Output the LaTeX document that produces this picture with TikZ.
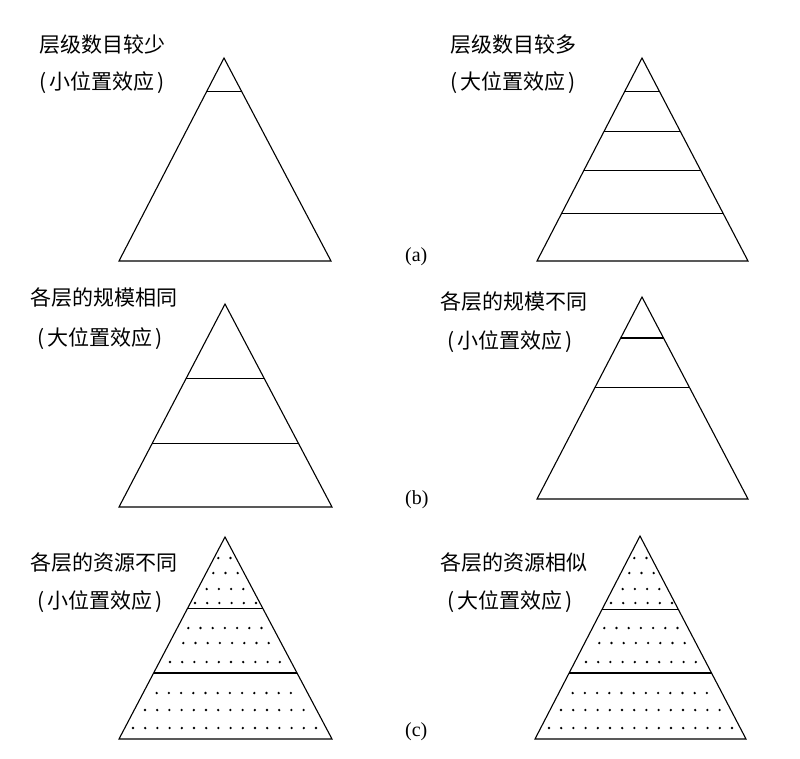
\documentclass[tikz,border=0pt]{standalone}
\usepackage{fontspec}
\newfontfamily\cjk{Noto Sans CJK SC}
\newfontfamily\partfont{Liberation Serif}
\usetikzlibrary{calc}

\tikzset{
  edge/.style={line width=1.1pt, line join=miter},
  headtext/.style={anchor=west, inner sep=0pt, font=\cjk\fontsize{21}{25}\selectfont},
  parttext/.style={anchor=west, inner sep=0pt, font=\partfont\fontsize{20}{24}\selectfont},
  dot/.style={fill=black}
}
\newcommand\effect[1]{(\hspace{3pt}#1\hspace{3pt})}

\begin{document}
\begin{tikzpicture}[x=1pt, y=-1pt]
  \useasboundingbox (0,0) rectangle (800,758);

  % (a)
  \node[headtext] (fewtitle) at (39,45) {层级数目较少};
  \node[headtext] (fewnote) at (39,83) {\effect{小位置效应}};
  \coordinate (fewtop) at (224,58);
  \coordinate (fewleft) at (119,261);
  \coordinate (fewright) at (331,261);
  \draw[edge] (fewtop) -- (fewleft) -- (fewright) -- cycle;
  \draw[edge] ($(fewtop)!0.163!(fewleft)$) -- ($(fewtop)!0.163!(fewright)$);

  \node[headtext] (manytitle) at (450,45) {层级数目较多};
  \node[headtext] (manynote) at (450,83) {\effect{大位置效应}};
  \coordinate (manytop) at (642,58);
  \coordinate (manyleft) at (537,261);
  \coordinate (manyright) at (748,261);
  \draw[edge] (manytop) -- (manyleft) -- (manyright) -- cycle;
  \foreach \t in {0.163,0.360,0.552,0.764}
    \draw[edge] ($(manytop)!\t!(manyleft)$) -- ($(manytop)!\t!(manyright)$);
  \node[parttext] (parta) at (405,257) {(a)};

  % (b)
  \node[headtext] (sametitle) at (30,298) {各层的规模相同};
  \node[headtext] (samenote) at (37,339) {\effect{大位置效应}};
  \coordinate (sametop) at (225,304);
  \coordinate (sameleft) at (119,507);
  \coordinate (sameright) at (332,507);
  \draw[edge] (sametop) -- (sameleft) -- (sameright) -- cycle;
  \foreach \t in {0.369,0.685}
    \draw[edge] ($(sametop)!\t!(sameleft)$) -- ($(sametop)!\t!(sameright)$);

  \node[headtext] (difftitle) at (440,302) {各层的规模不同};
  \node[headtext] (diffnote) at (447,342) {\effect{小位置效应}};
  \coordinate (difftop) at (642,297);
  \coordinate (diffleft) at (537,499);
  \coordinate (diffright) at (748,499);
  \draw[edge] (difftop) -- (diffleft) -- (diffright) -- cycle;
  \foreach \t in {0.203,0.446}
    \draw[edge] ($(difftop)!\t!(diffleft)$) -- ($(difftop)!\t!(diffright)$);
  \node[parttext] (partb) at (405,500) {(b)};

  % (c)
  \node[headtext] (unevtitle) at (30,563) {各层的资源不同};
  \node[headtext] (unevnote) at (37,602) {\effect{小位置效应}};
  \coordinate (unevtop) at (225,537);
  \coordinate (unevleft) at (119,739);
  \coordinate (unevright) at (332,739);
  \draw[edge] (unevtop) -- (unevleft) -- (unevright) -- cycle;
  \foreach \t in {0.356,0.673}
    \draw[edge] ($(unevtop)!\t!(unevleft)$) -- ($(unevtop)!\t!(unevright)$);

  \node[headtext] (evtitle) at (440,563) {各层的资源相似};
  \node[headtext] (evnote) at (447,602) {\effect{大位置效应}};
  \coordinate (evtop) at (640,536);
  \coordinate (evleft) at (535,739);
  \coordinate (evright) at (746,739);
  \draw[edge] (evtop) -- (evleft) -- (evright) -- cycle;
  \foreach \t in {0.36,0.675}
    \draw[edge] ($(evtop)!\t!(evleft)$) -- ($(evtop)!\t!(evright)$);
  \node[parttext] (partc) at (405,732) {(c)};

  % dots, same rows in both pyramids
  \foreach \dx in {0,416}
    \foreach \y/\x/\n in {558/218.3/2, 573/213.3/3, 589/206.7/4, 603/195/6,
                          628/188.3/7, 643/183.3/8, 662/170/10,
                          693/156.7/12, 710/145/14, 728/133/16}
      \foreach \k in {1,...,\n}
        \fill[dot] ({\dx+\x+12.2*(\k-1)},\y) circle (1.3pt);
\end{tikzpicture}
\end{document}
